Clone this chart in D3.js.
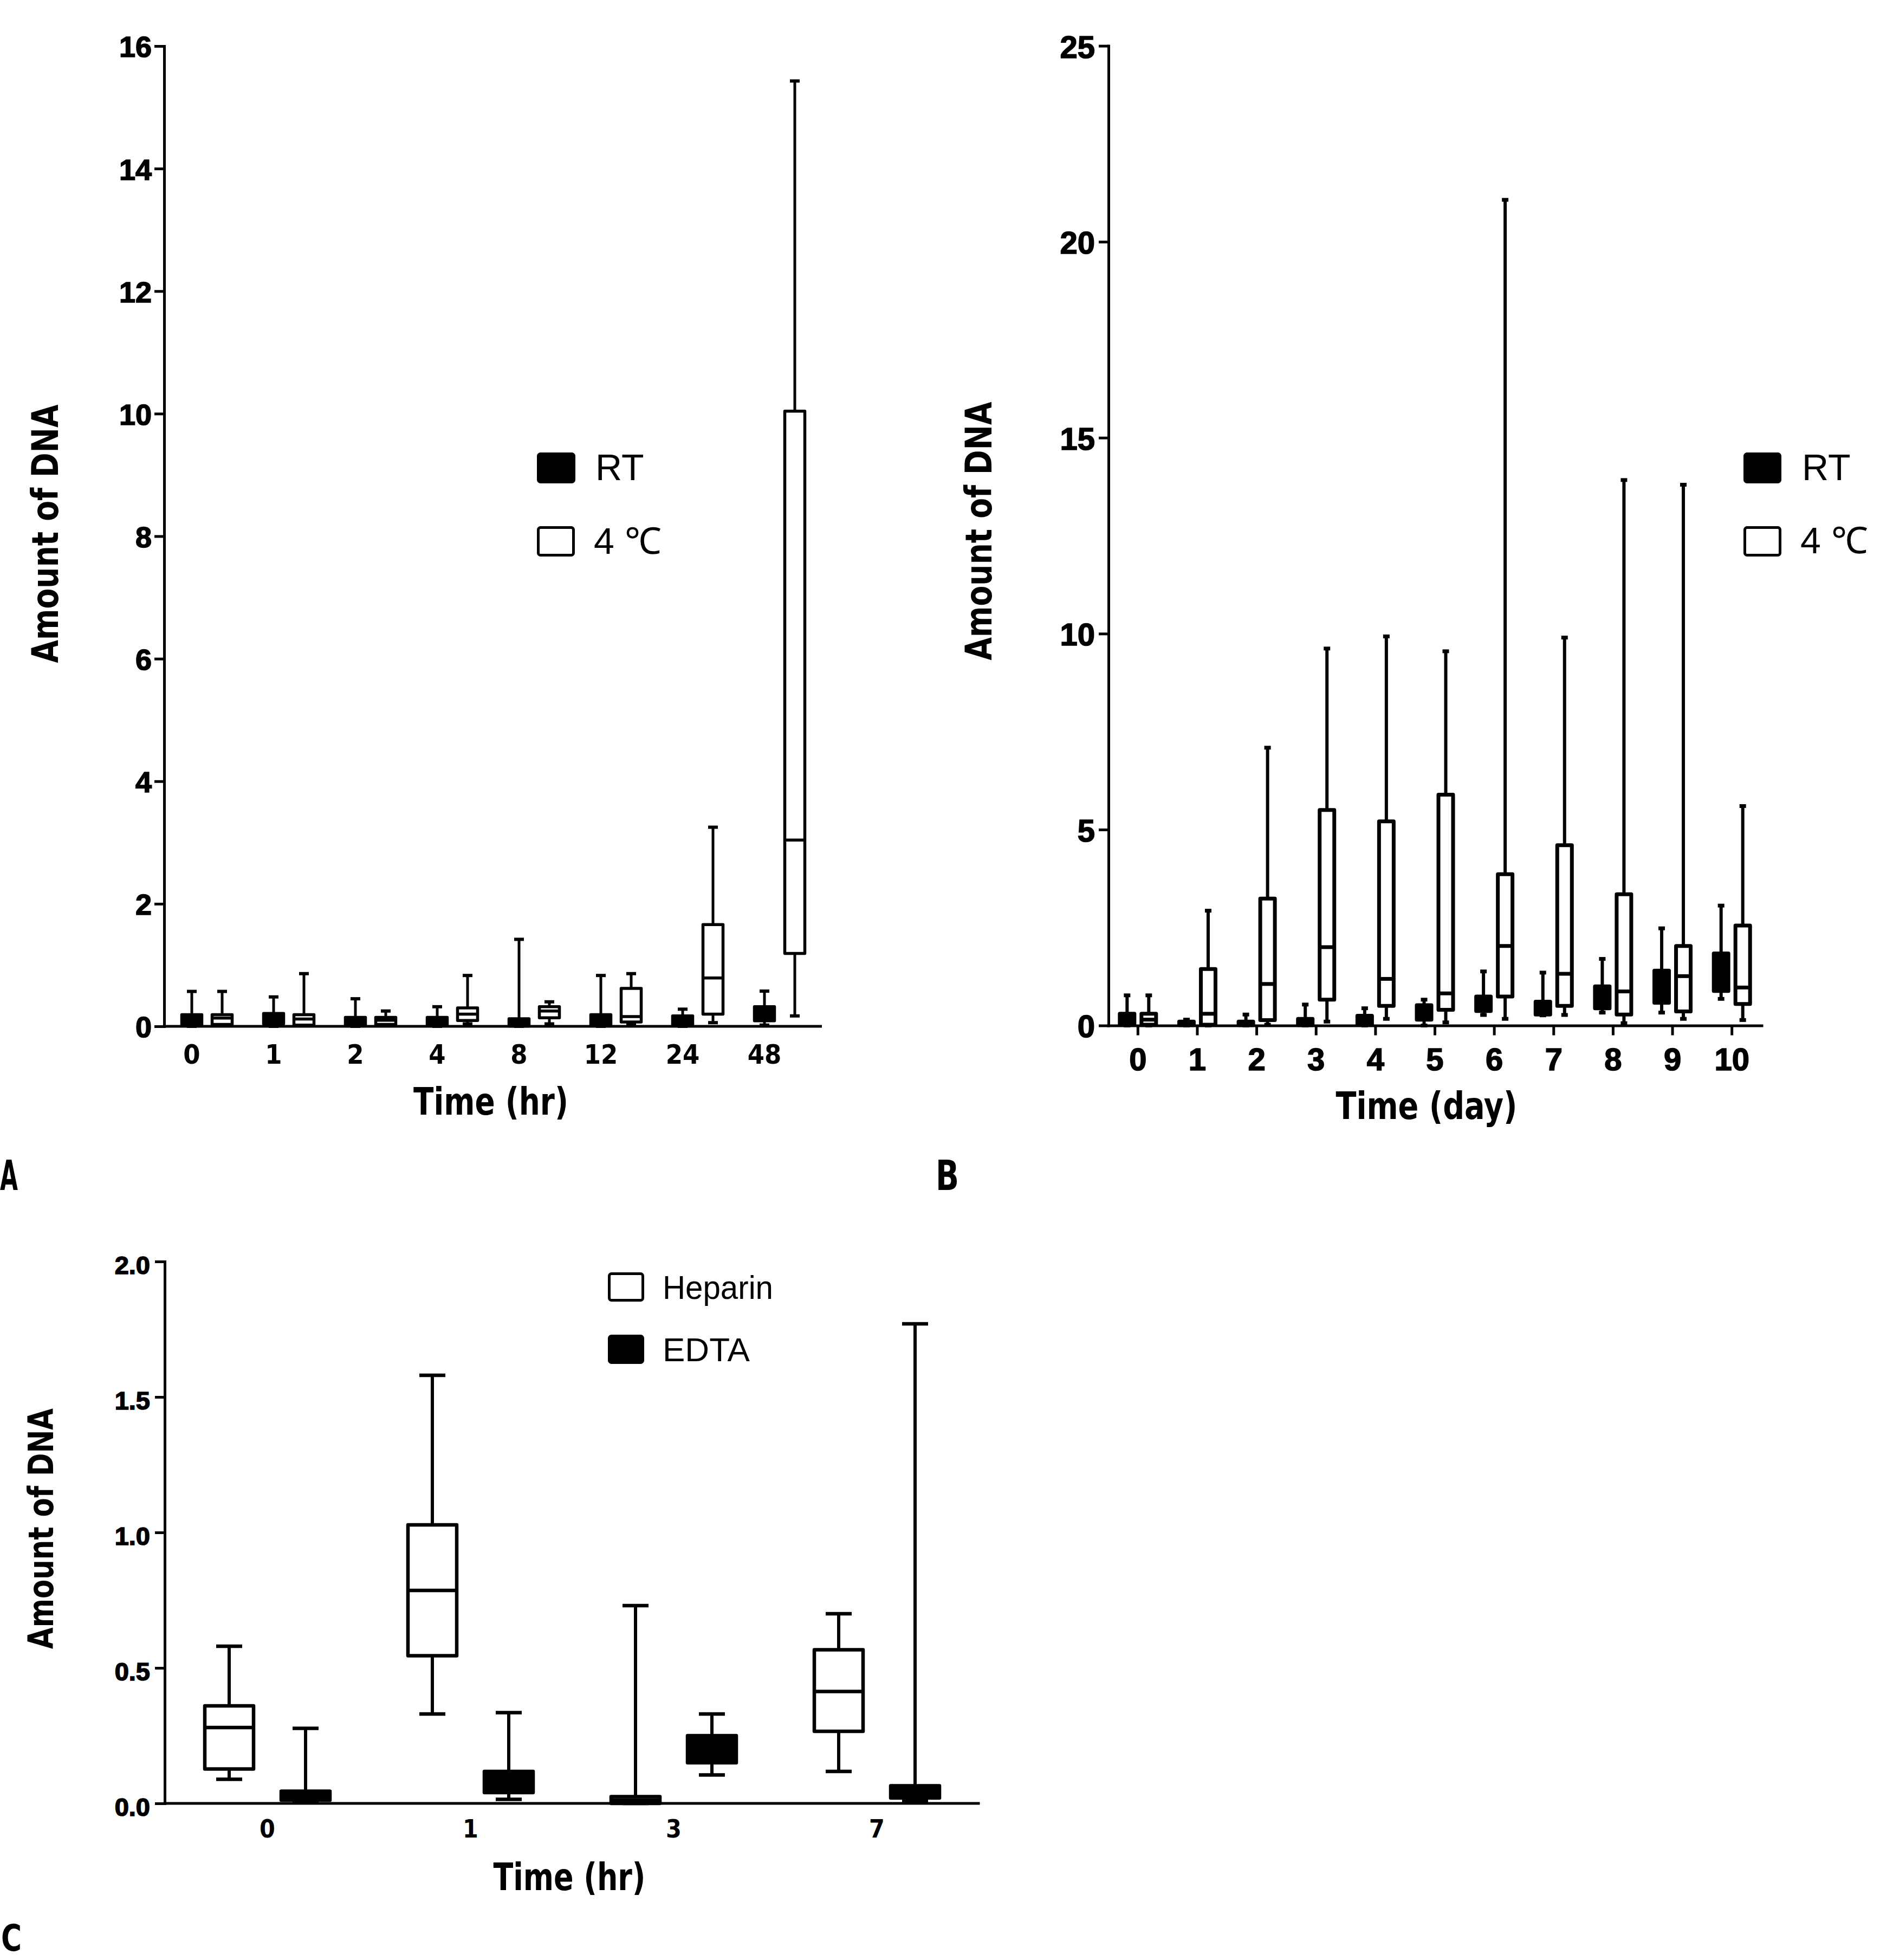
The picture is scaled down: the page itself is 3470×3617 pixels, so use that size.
<!DOCTYPE html>
<html><head><meta charset="utf-8">
<script src="https://cdn.jsdelivr.net/npm/d3@7"></script>
<style>
body{margin:0;background:#fff;}
svg{display:block;background:#fff;}
.wide{font-family:"Liberation Sans",Arial,sans-serif;font-weight:bold;fill:#000;stroke:#000;stroke-width:1.6px;}
.narrow{font-family:"Liberation Sans Narrow","DejaVu Sans Condensed","Liberation Sans",sans-serif;font-stretch:condensed;font-weight:bold;fill:#000;}
.leg{font-family:"Liberation Sans",Arial,sans-serif;fill:#000;}
</style></head><body>
<svg id="chart" width="3470" height="3617"></svg>
<script>
// ---------------- DATA ----------------
// each box: [min, q1, median, q3, max]
// Panel A : Time (hr)
const hoursA = ["0","1","2","4","8","12","24","48"];
const seriesA = ["RT","4 ℃"];
const rtA = [
  [0.00,0.02,0.08,0.19,0.57],
  [0.00,0.04,0.10,0.21,0.48],
  [0.00,0.01,0.05,0.145,0.45],
  [0.00,0.01,0.05,0.145,0.32],
  [0.00,0.005,0.04,0.124,1.42],
  [0.00,0.01,0.06,0.19,0.83],
  [0.00,0.02,0.07,0.17,0.28],
  [0.02,0.09,0.20,0.32,0.575]
];
const coldA = [
  [0.01,0.03,0.135,0.19,0.57],
  [0.01,0.02,0.12,0.19,0.86],
  [0.01,0.03,0.10,0.145,0.25],
  [0.04,0.095,0.20,0.30,0.83],
  [0.04,0.14,0.25,0.32,0.40],
  [0.03,0.07,0.16,0.62,0.86],
  [0.06,0.20,0.79,1.66,3.25],
  [0.17,1.19,3.04,10.04,15.43]
];
const yTicksA = [0,2,4,6,8,10,12,14,16];

// Panel B : Time (day)
const daysB = ["0","1","2","3","4","5","6","7","8","9","10"];
const seriesB = ["RT","4 ℃"];
const rtB = [
  [0.00,0.02,0.15,0.30,0.77],
  [0.00,0.01,0.05,0.10,0.15],
  [0.00,0.01,0.05,0.10,0.28],
  [0.00,0.01,0.08,0.17,0.535],
  [0.00,0.02,0.12,0.25,0.44],
  [0.00,0.15,0.35,0.52,0.66],
  [0.27,0.37,0.55,0.74,1.38],
  [0.26,0.28,0.45,0.61,1.35],
  [0.33,0.44,0.70,1.00,1.70],
  [0.33,0.58,1.00,1.40,2.48],
  [0.68,0.88,1.40,1.84,3.06]
];
const coldB = [
  [0.00,0.02,0.15,0.30,0.77],
  [0.00,0.02,0.30,1.44,2.93],
  [0.02,0.14,1.06,3.24,7.09],
  [0.10,0.66,2.00,5.50,9.62],
  [0.17,0.50,1.19,5.21,9.93],
  [0.08,0.40,0.82,5.89,9.55],
  [0.17,0.74,2.03,3.86,21.07],
  [0.27,0.50,1.32,4.60,9.90],
  [0.06,0.28,0.87,3.35,13.92],
  [0.17,0.36,1.26,2.03,13.80],
  [0.14,0.55,0.97,2.55,5.60]
];
const yTicksB = [0,5,10,15,20,25];

// Panel C : Time (hr), anticoagulant
const hoursC = ["0","1","3","7"];
const seriesC = ["Heparin","EDTA"];
const heparinC = [
  [0.089,0.127,0.28,0.36,0.58],
  [0.33,0.545,0.786,1.028,1.58],
  [0.00,0.00,0.0125,0.025,0.73],
  [0.118,0.266,0.413,0.567,0.70]
];
const edtaC = [
  [0.005,0.012,0.03,0.045,0.277],
  [0.015,0.04,0.08,0.118,0.335],
  [0.105,0.15,0.20,0.25,0.33],
  [0.01,0.02,0.04,0.065,1.77]
];
const yTicksC = [0,0.5,1.0,1.5,2.0];

// ---------------- DRAW ----------------
const svg = d3.select("#chart");
svg.append("rect").attr("width",3470).attr("height",3617).attr("fill","#fff");

function drawBoxes(g, cats, series, x, sub, y, st) {
  series.forEach(s => {
    const d = s.values.map((v,i) => ({v, cx: x(cats[i]) + x.bandwidth()/2 + sub(s.name) + sub.bandwidth()/2}));
    const gg = g.append("g");
    gg.selectAll("line.wh").data(d).join("line").attr("class","wh")
      .attr("x1",e=>e.cx).attr("x2",e=>e.cx)
      .attr("y1",e=>y(e.v[0])).attr("y2",e=>y(e.v[4]))
      .attr("stroke","#000").attr("stroke-width",st.ws);
    [0,4].forEach(k => {
      gg.selectAll("line.cap"+k).data(d).join("line").attr("class","cap"+k)
        .attr("x1",e=>e.cx-st.capW/2).attr("x2",e=>e.cx+st.capW/2)
        .attr("y1",e=>y(e.v[k])).attr("y2",e=>y(e.v[k]))
        .attr("stroke","#000").attr("stroke-width",st.capH);
    });
    gg.selectAll("rect").data(d).join("rect")
      .attr("x",e=>e.cx-st.boxW/2).attr("width",st.boxW)
      .attr("y",e=>y(e.v[3])).attr("height",e=>Math.max(0.5,y(e.v[1])-y(e.v[3])))
      .attr("fill",s.fill).attr("stroke","#000").attr("stroke-width",st.bs)
      .attr("stroke-linejoin","round");
    gg.selectAll("line.med").data(d).join("line").attr("class","med")
      .attr("x1",e=>e.cx-st.boxW/2).attr("x2",e=>e.cx+st.boxW/2)
      .attr("y1",e=>y(e.v[2])).attr("y2",e=>y(e.v[2]))
      .attr("stroke","#000").attr("stroke-width",st.bs);
  });
}

function yAxis(g, y, ticks, x0, fmt, fs, dy, pad) {
  const ax = g.append("g").attr("transform",`translate(${x0},0)`)
    .call(d3.axisLeft(y).tickValues(ticks).tickFormat(fmt).tickSize(18).tickSizeOuter(0).tickPadding(pad));
  ax.select(".domain").attr("stroke","#000").attr("stroke-width",5).attr("stroke-linecap","square");
  ax.selectAll(".tick line").attr("stroke","#000").attr("stroke-width",5);
  ax.selectAll(".tick text").attr("class","wide").attr("font-size",fs).attr("dy",dy).attr("fill","#000");
  ax.attr("font-family",null).attr("font-size",null);
  return ax;
}

function textAt(g, cls, x, y, str, fs, opts={}) {
  const t = g.append("text").attr("class",cls).attr("x",x).attr("y",y)
    .attr("font-size",fs).attr("text-anchor",opts.anchor||"middle").text(str);
  if (opts.len) t.attr("textLength",opts.len).attr("lengthAdjust","spacingAndGlyphs");
  return t;
}
function yTitle(g, x, y, str, fs, len) {
  g.append("text").attr("class","narrow").attr("transform",`translate(${x},${y}) rotate(-90)`)
    .attr("text-anchor","middle").attr("font-size",fs)
    .attr("textLength",len).attr("lengthAdjust","spacingAndGlyphs").text(str);
}
function legendItem(g, x, y, w, h, fill, label, tx, ty, fs, len) {
  g.append("rect").attr("x",x).attr("y",y).attr("width",w).attr("height",h).attr("rx",4)
    .attr("fill",fill).attr("stroke","#000").attr("stroke-width",5);
  const t = g.append("text").attr("class","leg").attr("x",tx).attr("y",ty).attr("font-size",fs).text(label);
  if (len) t.attr("textLength",len).attr("lengthAdjust","spacingAndGlyphs");
}

// ----- Panel A -----
{
  const g = svg.append("g");
  const x = d3.scaleBand().domain(hoursA).range([306.5,1514.5]).paddingInner(0).paddingOuter(0);
  const sub = d3.scaleBand().domain(seriesA).range([-56,56]);
  const y = d3.scaleLinear().domain([0,16]).range([1894,85]);
  const axX = 303;
  g.append("line").attr("x1",axX).attr("x2",x.range()[1]).attr("y1",y(0)).attr("y2",y(0))
    .attr("stroke","#000").attr("stroke-width",5).attr("stroke-linecap","square");
  yAxis(g, y, yTicksA, axX, d3.format("d"), 54, "0.37em", 5);
  drawBoxes(g, hoursA, [{name:seriesA[0],fill:"#000",values:rtA},{name:seriesA[1],fill:"#fff",values:coldA}],
    x, sub, y, {boxW:37, bs:5.5, ws:5, capW:18, capH:6});
  hoursA.forEach(c => textAt(g,"narrow", x(c)+x.bandwidth()/2+sub(seriesA[0])+sub.bandwidth()/2, 1963, c, 50));
  textAt(g,"narrow",906,2057,"Time (hr)",70,{len:286});
  yTitle(g,107,985,"Amount of DNA",67,477);
  legendItem(g,993.5,837.5,66,52,"#000",seriesA[0],1099,886,68);
  legendItem(g,993.5,973.5,65,51,"#fff",seriesA[1],1096,1022,68);
  textAt(g,"narrow",0,2196,"A",77,{anchor:"start",len:33});
}

// ----- Panel B -----
{
  const g = svg.append("g");
  const x = d3.scaleBand().domain(daysB).range([2045.5,3251.5]).paddingInner(0).paddingOuter(0);
  const sub = d3.scaleBand().domain(seriesB).range([-40,40]);
  const y = d3.scaleLinear().domain([0,25]).range([1892.5,84.6]);
  const axX = 2046;
  const xa = g.append("g").attr("transform",`translate(0,${y(0)})`)
    .call(d3.axisBottom(x).tickSize(18).tickSizeOuter(0).tickPadding(6));
  xa.select(".domain").attr("stroke","#000").attr("stroke-width",5).attr("stroke-linecap","square");
  xa.selectAll(".tick line").attr("stroke","#000").attr("stroke-width",5);
  xa.selectAll(".tick text").remove();
  xa.attr("font-family",null).attr("font-size",null);
  yAxis(g, y, yTicksB, axX, d3.format("d"), 58, "0.37em", 7);
  drawBoxes(g, daysB, [{name:seriesB[0],fill:"#000",values:rtB},{name:seriesB[1],fill:"#fff",values:coldB}],
    x, sub, y, {boxW:27, bs:7, ws:6, capW:12, capH:7});
  daysB.forEach(c => textAt(g,"wide", x(c)+x.bandwidth()/2, 1975, c, 58));
  textAt(g,"narrow",2633,2065,"Time (day)",70,{len:335});
  yTitle(g,1830,980,"Amount of DNA",67,477);
  legendItem(g,3220.5,837.5,65,52,"#000",seriesB[0],3326,886,68);
  legendItem(g,3220.5,973.5,65,51,"#fff",seriesB[1],3323,1021,68);
  textAt(g,"narrow",1727,2196,"B",77,{anchor:"start",len:43});
}

// ----- Panel C -----
{
  const g = svg.append("g");
  const x = d3.scaleBand().domain(hoursC).range([306,1806]).paddingInner(0).paddingOuter(0);
  const sub = d3.scaleBand().domain(seriesC).range([-141,141]);
  const y = d3.scaleLinear().domain([0,2]).range([3328,2328]);
  const axX = 304;
  g.append("line").attr("x1",axX).attr("x2",x.range()[1]).attr("y1",y(0)).attr("y2",y(0))
    .attr("stroke","#000").attr("stroke-width",5).attr("stroke-linecap","square");
  yAxis(g, y, yTicksC, axX, d3.format(".1f"), 47, "0.47em", 9);
  drawBoxes(g, hoursC, [{name:seriesC[0],fill:"#fff",values:heparinC},{name:seriesC[1],fill:"#000",values:edtaC}],
    x, sub, y, {boxW:90, bs:6.5, ws:6, capW:48, capH:6.5});
  hoursC.forEach(c => textAt(g,"narrow", x(c)+x.bandwidth()/2, 3391, c, 46));
  textAt(g,"narrow",1051,3488,"Time (hr)",70,{len:281});
  yTitle(g,98,2821,"Amount of DNA",64,444);
  legendItem(g,1124.5,2350.5,62,49,"#fff",seriesC[0],1223,2397,62,204);
  legendItem(g,1124.5,2465.5,62,49,"#000",seriesC[1],1223,2512,62);
  textAt(g,"narrow",2,3600,"C",68,{anchor:"start",len:38});
}
</script>
</body></html>
